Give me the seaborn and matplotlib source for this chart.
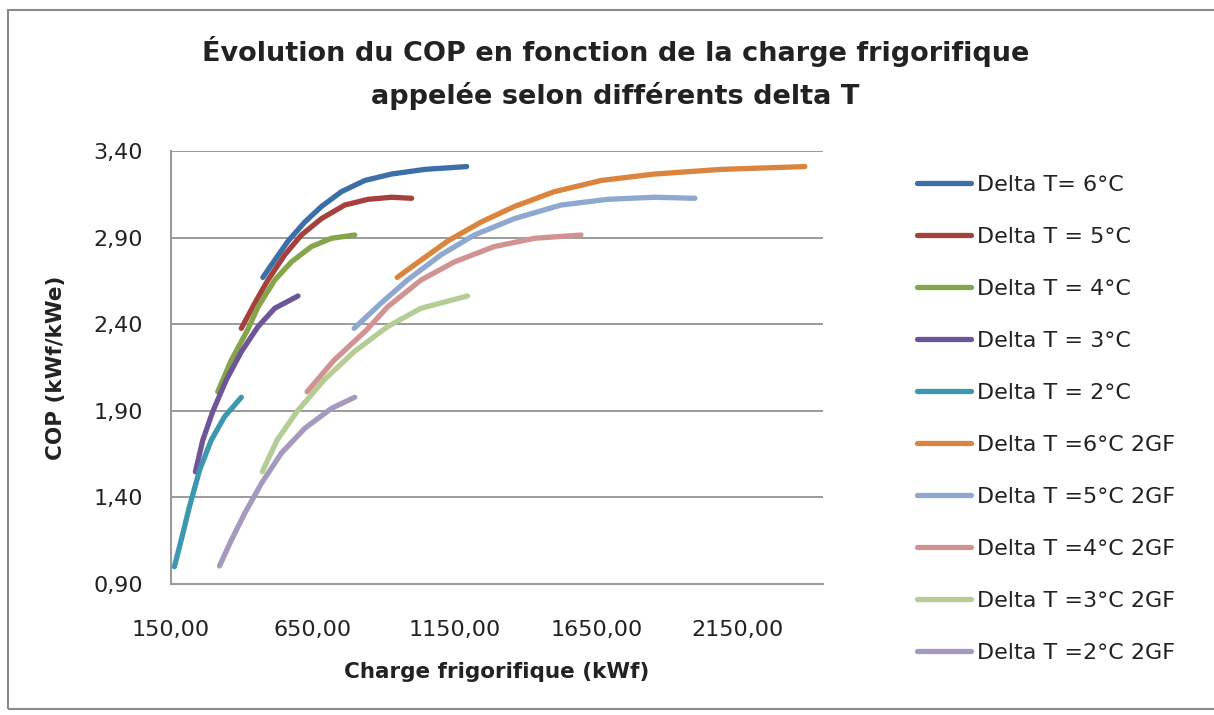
import matplotlib
matplotlib.use("Agg")
import matplotlib.pyplot as plt
from matplotlib.patches import Rectangle
from matplotlib.ticker import FuncFormatter
import seaborn as sns
import pandas as pd

# Valeurs (charge en kWf, COP)
dt6_x = [474, 516, 563, 622, 681, 751, 834, 928, 1046, 1193]
dt6_y = [2.67, 2.77, 2.88, 2.99, 3.08, 3.165, 3.23, 3.267, 3.294, 3.31]
dt5_x = [398, 445, 492, 551, 610, 681, 763, 845, 928, 999]
dt5_y = [2.376, 2.52, 2.655, 2.80, 2.915, 3.01, 3.088, 3.121, 3.133, 3.127]
dt4_x = [315, 362, 421, 457, 516, 575, 645, 716, 798]
dt4_y = [2.01, 2.19, 2.37, 2.50, 2.655, 2.76, 2.848, 2.896, 2.915]
dt3_x = [236, 262, 297, 345, 398, 457, 516, 598]
dt3_y = [1.548, 1.73, 1.895, 2.078, 2.241, 2.386, 2.492, 2.563]
dt2_x = [162, 186, 215, 251, 292, 339, 398]
dt2_y = [1.00, 1.154, 1.346, 1.558, 1.731, 1.866, 1.978]

dt6_2gf_x = [948, 1032, 1126, 1244, 1362, 1502, 1668, 1856, 2092, 2386]
dt6_2gf_y = [2.67, 2.77, 2.88, 2.99, 3.08, 3.165, 3.23, 3.267, 3.294, 3.31]
dt5_2gf_x = [796, 890, 984, 1102, 1220, 1362, 1526, 1690, 1856, 1998]
dt5_2gf_y = [2.376, 2.52, 2.655, 2.80, 2.915, 3.01, 3.088, 3.121, 3.133, 3.127]
dt4_2gf_x = [630, 724, 842, 914, 1032, 1150, 1290, 1432, 1596]
dt4_2gf_y = [2.01, 2.19, 2.37, 2.50, 2.655, 2.76, 2.848, 2.896, 2.915]
dt3_2gf_x = [472, 524, 594, 690, 796, 914, 1032, 1196]
dt3_2gf_y = [1.548, 1.73, 1.895, 2.078, 2.241, 2.386, 2.492, 2.563]
dt2_2gf_x = [321, 363, 410, 469, 539, 622, 716, 798]
dt2_2gf_y = [1.004, 1.154, 1.308, 1.481, 1.655, 1.799, 1.914, 1.978]

labels = ["Delta T= 6°C", "Delta T = 5°C", "Delta T = 4°C", "Delta T = 3°C",
          "Delta T = 2°C", "Delta T =6°C 2GF", "Delta T =5°C 2GF",
          "Delta T =4°C 2GF", "Delta T =3°C 2GF", "Delta T =2°C 2GF"]
colors = ["#3C6FA8", "#A6403D", "#86A44A", "#6E5597", "#3D97AF",
          "#DB843D", "#8EA8CF", "#D19392", "#B5CD94", "#A599BD"]
xs = [dt6_x, dt5_x, dt4_x, dt3_x, dt2_x,
      dt6_2gf_x, dt5_2gf_x, dt4_2gf_x, dt3_2gf_x, dt2_2gf_x]
ys = [dt6_y, dt5_y, dt4_y, dt3_y, dt2_y,
      dt6_2gf_y, dt5_2gf_y, dt4_2gf_y, dt3_2gf_y, dt2_2gf_y]

x_ticks = [150, 650, 1150, 1650, 2150]
y_ticks = [0.90, 1.40, 1.90, 2.40, 2.90, 3.40]

sns.set_style("white")
plt.rcParams["font.family"] = ["DejaVu Sans"]

fig = plt.figure(figsize=(12.14, 7.15), dpi=100)
ax = fig.add_axes([171 / 1214, 1 - 584 / 715, (823 - 171) / 1214, (584 - 151) / 715])

frames = []
for lab, x, y in zip(labels, xs, ys):
    frames.append(pd.DataFrame({"charge": x, "cop": y, "serie": lab}))
df = pd.concat(frames, ignore_index=True)

sns.lineplot(data=df, x="charge", y="cop", hue="serie", palette=colors,
             hue_order=labels, sort=False, estimator=None, linewidth=3.8,
             legend=False, ax=ax)
for line in ax.lines:
    line.set_solid_capstyle("round")
    line.set_solid_joinstyle("round")

ax.set_xlim(150, 2450)
ax.set_ylim(0.9, 3.4)
ax.set_xticks(x_ticks)
ax.set_yticks(y_ticks)
fmt = FuncFormatter(lambda v, p: f"{v:.2f}".replace(".", ","))
ax.xaxis.set_major_formatter(fmt)
ax.yaxis.set_major_formatter(fmt)
ax.tick_params(axis="both", length=0, labelsize=16, colors="#222222")
ax.tick_params(axis="y", pad=20)
ax.tick_params(axis="x", pad=26)
ax.grid(axis="y", color="#9A9A9A", linewidth=1.4)
ax.set_axisbelow(True)
for side in ["top", "right"]:
    ax.spines[side].set_visible(False)
for side in ["left", "bottom"]:
    ax.spines[side].set_color("#9A9A9A")
    ax.spines[side].set_linewidth(1.5)

ax.set_xlabel("Charge frigorifique (kWf)", fontsize=15.5, fontweight="bold",
              color="#222222", labelpad=16)
ax.set_ylabel("COP (kWf/kWe)", fontsize=15.5, fontweight="bold",
              color="#222222", labelpad=20)

fig.text(0.507, 1 - 73 / 715,
         "Évolution du COP en fonction de la charge frigorifique\nappelée selon différents delta T",
         ha="center", va="center", fontsize=19.5, fontweight="bold",
         color="#222222", linespacing=1.72)

handles = ax.lines[:len(labels)]
leg = fig.legend(handles, labels, loc="upper left",
                 bbox_to_anchor=(897 / 1214, 1 - 155 / 715), frameon=False,
                 fontsize=16, handlelength=2.45, handletextpad=0.25,
                 labelspacing=1.44)
for t in leg.get_texts():
    t.set_color("#222222")

fig.add_artist(Rectangle((8 / 1214, 1 - 709 / 715), 1.1, (709 - 10) / 715,
                         transform=fig.transFigure, fill=False,
                         edgecolor="#8A8A8A", linewidth=1.5))

fig.savefig("out.png", dpi=100)
